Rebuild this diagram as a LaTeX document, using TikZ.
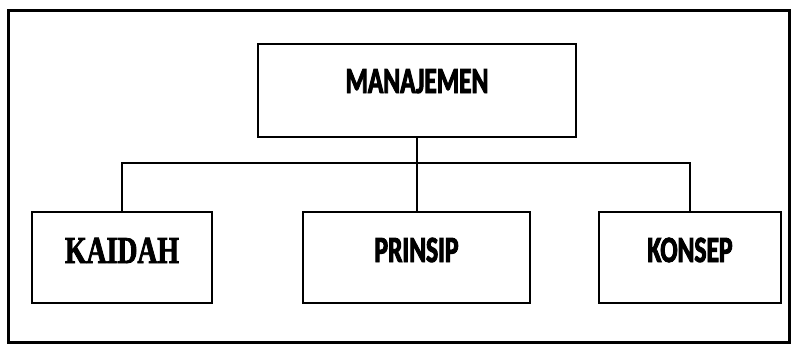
\documentclass[tikz,border=0pt]{standalone}
\usepackage{fontspec}
\newfontfamily\condsans{Carlito Bold}[FakeStretch=0.69,FakeBold=2.6]
\newfontfamily\condserif{Liberation Serif Bold}[FakeStretch=0.73,FakeBold=2.2]
\tikzset{
  box/.style={draw=black, line width=2.5pt, inner sep=0pt, align=center, fill=white},
  link/.style={draw=black, line width=2pt},
  frame/.style={draw=black, line width=3pt},
  sanslabel/.style={font=\condsans\fontsize{37}{40}\selectfont},
  seriflabel/.style={font=\condserif\fontsize{38}{40}\selectfont}
}
\begin{document}
\begin{tikzpicture}[x=1pt,y=-1pt]
\useasboundingbox (0,0) rectangle (795,346);
\draw[frame] (8,10) rectangle (789,342);
\node[box, sanslabel, minimum width=318pt, text height=49pt, text depth=44pt] (top) at (417,90.5) {MANAJEMEN};
\node[box, seriflabel, minimum width=180pt, text height=51pt, text depth=40pt] (kaidah) at (122,257.5) {KAIDAH};
\node[box, sanslabel, minimum width=227pt, text height=50pt, text depth=41pt] (prinsip) at (416.5,257.5) {PRINSIP};
\node[box, sanslabel, minimum width=182pt, text height=50pt, text depth=41pt] (konsep) at (690,257.5) {KONSEP};
\coordinate (hub) at (417,163);
\draw[link] (top.south) -- (hub) -- (hub |- prinsip.north);
\draw[link] (kaidah.north) |- (hub) -| (konsep.north);
\end{tikzpicture}
\end{document}
